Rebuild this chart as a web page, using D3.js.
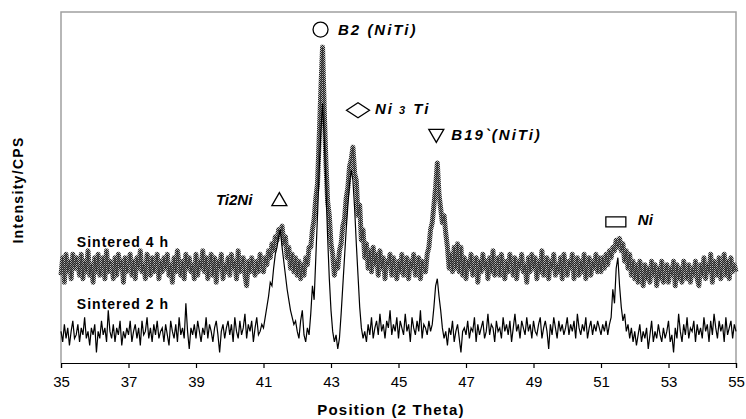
<!DOCTYPE html>
<html>
<head>
<meta charset="utf-8">
<script src="https://cdn.jsdelivr.net/npm/d3@7"></script>
<style>
  body { margin: 0; background: #fff; }
  text { font-family: Arial, "Liberation Sans", sans-serif; }
</style>
</head>
<body>
<div id="wrapper"></div>
<script>
// scan grid of the diffractometer (2 theta, degrees)
const thetaStart = 35
const thetaStep = 0.05

// Sintered 2 h, 35.00 .. 55.00, one row per degree
const sintered2h = [
  9, 6, 11, 7, 10, 5, 9, 12, 7, 8, 11, 6, 10, 8, 13, 7, 9, 5, 10, 8,
  11, 3, 9, 7, 12, 8, 10, 6, 15, 9, 7, 11, 6, 10, 8, 12, 5, 9, 7, 10,
  8, 12, 6, 9, 11, 7, 10, 5, 12, 8, 9, 13, 7, 10, 6, 11, 8, 12, 7, 9,
  10, 6, 11, 8, 5, 12, 9, 7, 11, 6, 13, 8, 10, 7, 17, 9, 4, 10, 8, 11,
  7, 12, 9, 6, 10, 8, 13, 7, 11, 9, 6, 10, 12, 8, 3, 9, 11, 7, 10, 12,
  8, 11, 6, 13, 9, 7, 12, 8, 10, 14, 7, 11, 9, 12, 6, 10, 13, 8, 9, 11,
  10, 13, 16, 19, 23, 22, 27, 31, 33, 36, 38, 33, 29, 25, 21, 18, 15, 13, 11, 12,
  9, 7, 12, 15, 8, 6, 10, 8, 14, 22, 18, 30, 42, 55, 66, 74, 64, 50, 36, 24,
  15, 9, 6, 8, 4, 7, 14, 22, 30, 38, 45, 51, 55, 52, 44, 34, 25, 16, 10, 7,
  9, 6, 11, 8, 13, 7, 10, 12, 8, 14, 9, 11, 7, 12, 10, 15, 8, 11, 9, 13,
  7, 12, 10, 8, 14, 9, 11, 6, 13, 10, 8, 12, 9, 15, 7, 11, 10, 8, 12, 9,
  11, 16, 22, 24, 19, 15, 10, 7, 9, 5, 10, 8, 12, 6, 9, 11, 7, 3, 9, 10,
  8, 12, 7, 10, 9, 13, 6, 11, 8, 10, 12, 7, 9, 14, 8, 11, 10, 6, 12, 9,
  10, 7, 13, 9, 11, 8, 12, 6, 10, 14, 9, 11, 7, 12, 10, 8, 13, 9, 11, 7,
  12, 9, 8, 11, 13, 7, 10, 12, 9, 4, 11, 8, 13, 10, 7, 12, 9, 11, 8, 10,
  13, 8, 11, 9, 12, 7, 14, 10, 8, 11, 9, 13, 7, 10, 12, 8, 11, 9, 12, 10,
  8, 11, 9, 12, 8, 11, 13, 21, 17, 27, 30, 22, 16, 12, 14, 9, 11, 7, 10, 6,
  9, 5, 8, 11, 6, 9, 7, 10, 4, 8, 12, 6, 9, 7, 11, 8, 6, 10, 7, 9,
  12, 6, 8, 3, 10, 7, 14, 9, 6, 11, 8, 13, 7, 10, 9, 12, 6, 11, 8, 10,
  7, 13, 9, 11, 6, 12, 8, 14, 10, 7, 12, 9, 11, 6, 13, 8, 10, 12, 7, 11,
  9
]

// Sintered 4 h, same grid
const sintered4h = [
  25, 30, 23, 31, 26, 29, 24, 31, 27, 30, 28, 25, 31, 24, 29, 26, 32, 25, 28, 23,
  30, 26, 31, 25, 27, 30, 24, 32, 26, 29, 28, 24, 30, 25, 31, 27, 29, 23, 30, 26,
  28, 31, 25, 29, 24, 30, 27, 32, 26, 28, 24, 31, 29, 25, 30, 26, 28, 31, 24, 29,
  26, 30, 27, 31, 25, 28, 23, 30, 26, 32, 28, 25, 29, 24, 31, 27, 30, 26, 28, 24,
  31, 25, 29, 27, 32, 26, 30, 24, 28, 31, 25, 30, 23, 29, 27, 31, 24, 28, 26, 30,
  25, 31, 27, 29, 24, 32, 26, 28, 30, 25, 22, 29, 26, 30, 27, 25, 29, 26, 31, 27,
  26, 30, 28, 32, 30, 34, 32, 36, 35, 38, 37, 39, 34, 36, 30, 33, 27, 31, 26, 30,
  25, 29, 24, 28, 25, 30, 28, 33, 33, 38, 41, 47, 51, 64, 78, 90, 72, 57, 46, 42,
  34, 31, 25, 29, 27, 32, 34, 39, 41, 47, 50, 56, 58, 61.5, 54, 52, 42, 45, 35, 38,
  30, 34, 27, 32, 26, 33, 28, 31, 25, 32, 27, 30, 24, 29, 28, 31, 25, 30, 27, 24,
  29, 26, 31, 25, 28, 30, 24, 29, 27, 31, 25, 28, 30, 24, 29, 27, 26, 31, 33, 38,
  40, 45, 50, 57, 48, 44, 40, 42, 37, 33, 27, 31, 26, 33, 27, 34, 26, 33, 25, 30,
  24, 29, 27, 31, 25, 28, 30, 23, 29, 26, 31, 27, 29, 24, 30, 26, 32, 25, 28, 30,
  25, 31, 27, 24, 29, 26, 31, 28, 25, 30, 24, 29, 27, 31, 26, 28, 23, 30, 26, 31,
  27, 30, 24, 29, 26, 32, 25, 28, 30, 24, 29, 27, 31, 25, 28, 26, 30, 24, 31, 27,
  25, 29, 27, 31, 24, 28, 30, 25, 29, 26, 31, 24, 28, 30, 25, 29, 27, 31, 26, 30,
  26, 30, 27, 31, 28, 32, 30, 33, 32, 35, 33, 35.5, 32, 34, 29, 32, 27, 31, 25, 29,
  24, 28, 23, 29, 26, 22, 28, 24, 27, 23, 29, 25, 28, 22, 27, 24, 29, 23, 26, 28,
  23, 27, 25, 29, 22, 28, 24, 27, 23, 29, 26, 24, 28, 23, 27, 25, 29, 24, 22, 28,
  25, 30, 24, 28, 26, 31, 23, 29, 27, 25, 30, 24, 28, 31, 25, 29, 24, 30, 26, 28,
  26
]

const xTicks = [35, 37, 39, 41, 43, 45, 47, 49, 51, 53, 55]

// phase markers: symbol centre (theta, intensity)
const phases = [
  { label: "B2 (NiTi)", symbol: "circle", theta: 42.69, level: 95 },
  { label: "Ni3Ti", symbol: "diamond", theta: 43.8, level: 72 },
  { label: "B19`(NiTi)", symbol: "triDown", theta: 46.12, level: 64.7 },
  { label: "Ti2Ni", symbol: "triUp", theta: 41.47, level: 46.7 },
  { label: "Ni", symbol: "square", theta: 51.44, level: 40.2 },
]

const seriesLabels = [
  { label: "Sintered 4 h", theta: 35.47, level: 33 },
  { label: "Sintered 2 h", theta: 35.47, level: 15.4 },
]

function drawXrd() {
  let dimensions = {
    width: 746,
    height: 419,
    margin: { top: 12, right: 10, bottom: 56, left: 61 },
  }
  dimensions.boundedWidth = dimensions.width - dimensions.margin.left - dimensions.margin.right
  dimensions.boundedHeight = dimensions.height - dimensions.margin.top - dimensions.margin.bottom

  const wrapper = d3.select("#wrapper")
    .append("svg")
      .attr("width", dimensions.width)
      .attr("height", dimensions.height)

  // dithered grey used for the 4 h trace
  const pattern = wrapper.append("defs").append("pattern")
      .attr("id", "dither")
      .attr("patternUnits", "userSpaceOnUse")
      .attr("width", 2)
      .attr("height", 2)
  pattern.append("rect").attr("width", 2).attr("height", 2).attr("fill", "#bbb")
  pattern.append("rect").attr("width", 1).attr("height", 1).attr("fill", "#222")
  pattern.append("rect").attr("x", 1).attr("y", 1).attr("width", 1).attr("height", 1).attr("fill", "#222")

  const bounds = wrapper.append("g")
      .attr("transform", `translate(${dimensions.margin.left},${dimensions.margin.top})`)

  const xScale = d3.scaleLinear()
    .domain([35, 55])
    .range([0, dimensions.boundedWidth])

  const yScale = d3.scaleLinear()
    .domain([0, 100])
    .range([dimensions.boundedHeight, 0])

  const thetaOf = (d, i) => thetaStart + i * thetaStep

  // plot frame (grey) on left, top, right
  bounds.append("path")
    .attr("d", `M0,${dimensions.boundedHeight}V0H${dimensions.boundedWidth}V${dimensions.boundedHeight}`)
    .attr("fill", "none")
    .attr("stroke", "#a0a0a0")
    .attr("stroke-width", 1.5)

  const lineGen = d3.line()
    .x((d, i) => xScale(thetaOf(d, i)))
    .y(d => yScale(d))

  bounds.append("path")
    .datum(sintered4h)
    .attr("d", lineGen)
    .attr("fill", "none")
    .attr("stroke", "url(#dither)")
    .attr("stroke-width", 5)
    .attr("stroke-linejoin", "round")

  bounds.append("path")
    .datum(sintered4h)
    .attr("d", lineGen)
    .attr("fill", "none")
    .attr("stroke", "#333")
    .attr("stroke-width", 0.8)

  bounds.append("path")
    .datum(sintered2h)
    .attr("d", lineGen)
    .attr("fill", "none")
    .attr("stroke", "#000")
    .attr("stroke-width", 1.2)

  // x axis
  const xAxisGenerator = d3.axisBottom()
    .scale(xScale)
    .tickValues(xTicks)
    .tickSize(5)
    .tickFormat(d3.format("d"))

  const xAxis = bounds.append("g")
    .attr("transform", `translate(0,${dimensions.boundedHeight})`)
    .call(xAxisGenerator)

  xAxis.select(".domain").attr("stroke", "#000").attr("stroke-width", 1.2)
  xAxis.selectAll(".tick line").attr("stroke", "#000").attr("stroke-width", 1.2)
  xAxis.selectAll(".tick text")
    .attr("y", 13)
    .attr("fill", "#000")
    .style("font-size", "15px")
    .style("font-family", "Arial, 'Liberation Sans', sans-serif")

  wrapper.append("text")
    .attr("x", 391)
    .attr("y", 415)
    .attr("text-anchor", "middle")
    .style("font-size", "15px")
    .style("font-weight", "bold")
    .style("letter-spacing", "1.2px")
    .text("Position (2 Theta)")

  wrapper.append("text")
    .attr("transform", "translate(23,190) rotate(-90)")
    .attr("text-anchor", "middle")
    .style("font-size", "14px")
    .style("font-weight", "bold")
    .style("letter-spacing", "1.3px")
    .text("Intensity/CPS")

  // series labels
  bounds.selectAll(".series-label")
    .data(seriesLabels)
    .enter().append("text")
      .attr("class", "series-label")
      .attr("x", d => xScale(d.theta))
      .attr("y", d => yScale(d.level))
      .style("font-size", "14px")
      .style("font-weight", "bold")
      .style("letter-spacing", "1px")
      .text(d => d.label)

  // phase symbols + labels
  const marks = bounds.selectAll(".phase")
    .data(phases)
    .enter().append("g")
      .attr("class", "phase")
      .attr("transform", d => `translate(${xScale(d.theta)},${yScale(d.level)})`)

  const shapes = {
    circle: "M7.5,0A7.5,7.5 0 1,1 -7.5,0A7.5,7.5 0 1,1 7.5,0Z",
    diamond: "M-11.5,0L0,-7.5L11.5,0L0,7.5Z",
    triDown: "M-7.5,-6.5L7.5,-6.5L0,6.5Z",
    triUp: "M-7.5,6.5L7.5,6.5L0,-6.5Z",
    square: "M-10,-5H10V5H-10Z",
  }
  marks.append("path")
    .attr("d", d => shapes[d.symbol])
    .attr("fill", "none")
    .attr("stroke", "#000")
    .attr("stroke-width", 1.3)

  const textOffset = {
    circle: [17.5, 5.5, "start", 2],
    diamond: [17, 3.5, "start", 2],
    triDown: [15, 4, "start", 2],
    triUp: [-27, 6, "end", 0],
    square: [22, 3, "start", 0],
  }

  marks.append("text")
    .attr("x", d => textOffset[d.symbol][0])
    .attr("y", d => textOffset[d.symbol][1])
    .attr("text-anchor", d => textOffset[d.symbol][2])
    .style("letter-spacing", d => textOffset[d.symbol][3] + "px")
    .style("font-size", "15px")
    .style("font-weight", "bold")
    .style("font-style", "italic")
    .each(function(d) {
      const t = d3.select(this)
      if (d.label === "Ni3Ti") {
        t.append("tspan").text("Ni")
        t.append("tspan").style("font-size", "11px").text(" 3")
        t.append("tspan").text(" Ti")
      } else {
        t.text(d.label)
      }
    })
}

drawXrd()
</script>
</body>
</html>
